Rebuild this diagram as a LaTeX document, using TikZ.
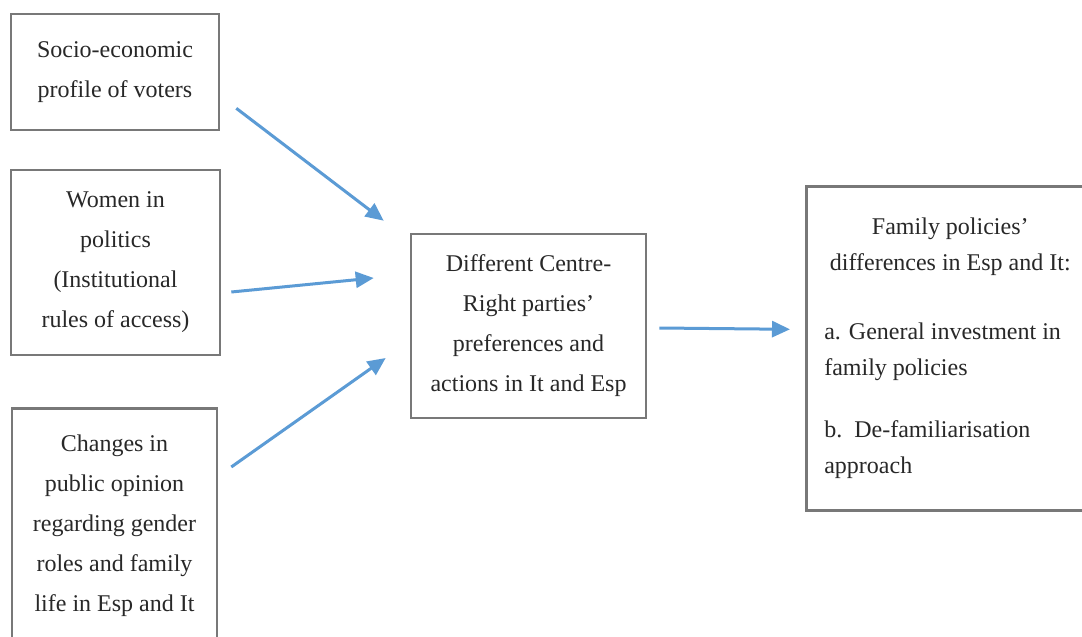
\documentclass[tikz,border=0pt]{standalone}
\usepackage{fontspec}
\setmainfont{Liberation Serif}
\usepackage{xcolor}
\usepackage{tikz}
\usetikzlibrary{positioning,calc,arrows.meta}
\definecolor{ArrowBlue}{RGB}{91,155,213}
\definecolor{BoxGray}{RGB}{120,120,120}
\definecolor{TextGray}{RGB}{40,40,40}
\tikzset{
    factor/.style={rectangle, draw=BoxGray, line width=1.3pt, fill=white, align=center, text=TextGray, font=\fontsize{12}{20}\selectfont, inner sep=0pt},
    link/.style={draw=ArrowBlue, line width=1.5pt, -{Triangle[length=9pt,width=8pt]}}
}
\begin{document}
\begin{tikzpicture}[x=0.5pt, y=-0.5pt]
    \useasboundingbox[fill=white] (0,0) rectangle (1082,637);

    % --- FACTORS ---
    \node[factor, minimum width=104pt, minimum height=58pt] (socio) at (115,72)
        {Socio-economic\\profile of voters};
    \node[factor, minimum width=104.5pt, minimum height=92.5pt] (women) at (115.5,262.5)
        {Women in\\politics\\(Institutional\\rules of access)};
    \node[factor, anchor=north, minimum width=102.5pt, minimum height=135pt] (opinion) at (114.5,407)
        {Changes in\\public opinion\\regarding gender\\roles and family\\life in Esp and It\\ ~};

    % --- MIDDLE ---
    \node[factor, minimum width=117.5pt, minimum height=92pt] (parties) at (528.5,326)
        {Different Centre-\\Right parties'\\preferences and\\actions in It and Esp};

    % --- OUTCOME ---
    \node[factor, anchor=north west, align=flush left, text width=126pt, inner xsep=9pt,
          minimum height=162pt, font=\fontsize{12}{18}\selectfont] (policies) at (805,185)
        {{\centering Family policies'\\differences in Esp and It:\par}\vspace{16.5pt}
         a. General investment in\\family policies\\[13pt]
         b.\ \ De-familiarisation\\approach};

    % --- ARROWS ---
    \draw[link] ([shift={(16,-23)}]socio.south east) -- ([shift={(-26,-12)}]parties.north west);
    \draw[link] ([shift={(10,29.5)}]women.east) -- ([shift={(-36,-48)}]parties.west);
    \draw[link] ([shift={(13,60)}]opinion.north east) -- ([shift={(-24,32)}]parties.west);
    \draw[link] ([shift={(12,2)}]parties.east) -- ([shift={(-15,-19)}]policies.west);
\end{tikzpicture}
\end{document}
